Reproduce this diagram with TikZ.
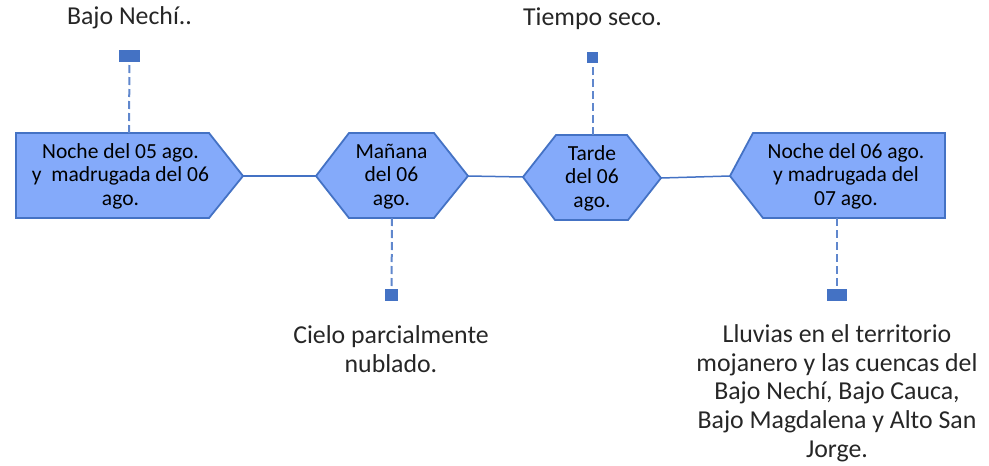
\documentclass[tikz,border=0pt]{standalone}
\usepackage{fontspec}
\setmainfont{Carlito}
\definecolor{boxfill}{HTML}{84AAFA}
\definecolor{boxline}{HTML}{4472C4}
\definecolor{labeltext}{HTML}{262626}

\begin{document}
\begin{tikzpicture}[x=1pt, y=-1pt]
    \tikzset{%
        etapa/.style={draw=boxline, fill=boxfill, line width=1.8pt, line join=miter},
        etapatxt/.style={anchor=base, align=center, inner sep=0pt, font=\fontsize{21.5pt}{23.5pt}\selectfont},
        nota/.style={anchor=base, align=center, inner sep=0pt, text=labeltext, font=\fontsize{25.8pt}{28.6pt}\selectfont},
        marca/.style={fill=boxline, inner sep=0pt, minimum width=#1, minimum height=12pt},
        guia/.style={draw=boxline!85!white, line width=2pt, dash pattern=on 8pt off 4pt},
        enlace/.style={draw=boxline, line width=1.5pt},
    }
    \useasboundingbox (0, 0) rectangle (989, 466);

    % etapas
    \draw [etapa] (16, 133) -- (209, 133) -- (243, 176) coordinate (b1r) -- (209, 218) -- (16, 218) -- cycle;
    \draw [etapa] (316, 176) coordinate (b2l) -- (349, 133) -- (434, 133) -- (468, 176) coordinate (b2r) -- (434, 218) -- (349, 218) -- cycle;
    \draw [etapa] (523, 177) coordinate (b3l) -- (556, 135) -- (627, 135) -- (661, 178) coordinate (b3r) -- (628, 220) -- (555, 220) -- cycle;
    \draw [etapa] (730, 176) coordinate (b4l) -- (753, 133) -- (945, 133) -- (945, 218) -- (763, 218) -- cycle;

    % base = last line
    \node [etapatxt] (t1) at (120.5, 205) {Noche del 05 ago.\\y\ \ madrugada del 06\\ago.};
    \node [etapatxt] (t2) at (391.5, 205) {Mañana\\del 06\\ago.};
    \node [etapatxt] (t3) at (592, 207) {Tarde\\del 06\\ago.};
    \node [etapatxt] (t4) at (846, 205) {Noche del 06 ago.\\y madrugada del\\07 ago.};

    \draw [enlace] (b1r) -- (b2l);
    \draw [enlace] (b2r) -- (b3l);
    \draw [enlace] (b3r) -- (b4l);

    % marcas y guias
    \coordinate (b1t) at (129, 133);
    \coordinate (b2b) at (392, 218);
    \coordinate (b3t) at (592.5, 135);
    \coordinate (b4b) at (837, 218);
    \node [marca=21pt] (m1) at (129.5, 56) {};
    \node [marca=13pt] (m2) at (391.5, 295) {};
    \node [marca=11pt, minimum height=11pt] (m3) at (592.5, 57.5) {};
    \node [marca=20pt] (m4) at (837, 295) {};
    \draw [guia] (b1t) -- (m1);
    \draw [guia] (b2b) -- (m2);
    \draw [guia] (b3t) -- (m3);
    \draw [guia] (b4b) -- (m4);

    \node [nota] (n1) at (129.5, 24) {Bajo Nechí..};
    \node [nota] (n2) at (391, 372) {Cielo parcialmente\\nublado.};
    \node [nota] (n3) at (592.5, 25) {Tiempo seco.};
    \node [nota] (n4) at (837, 457) {Lluvias en el territorio\\mojanero y las cuencas del\\Bajo Nechí, Bajo Cauca,\\Bajo Magdalena y Alto San\\Jorge.};
\end{tikzpicture}
\end{document}
